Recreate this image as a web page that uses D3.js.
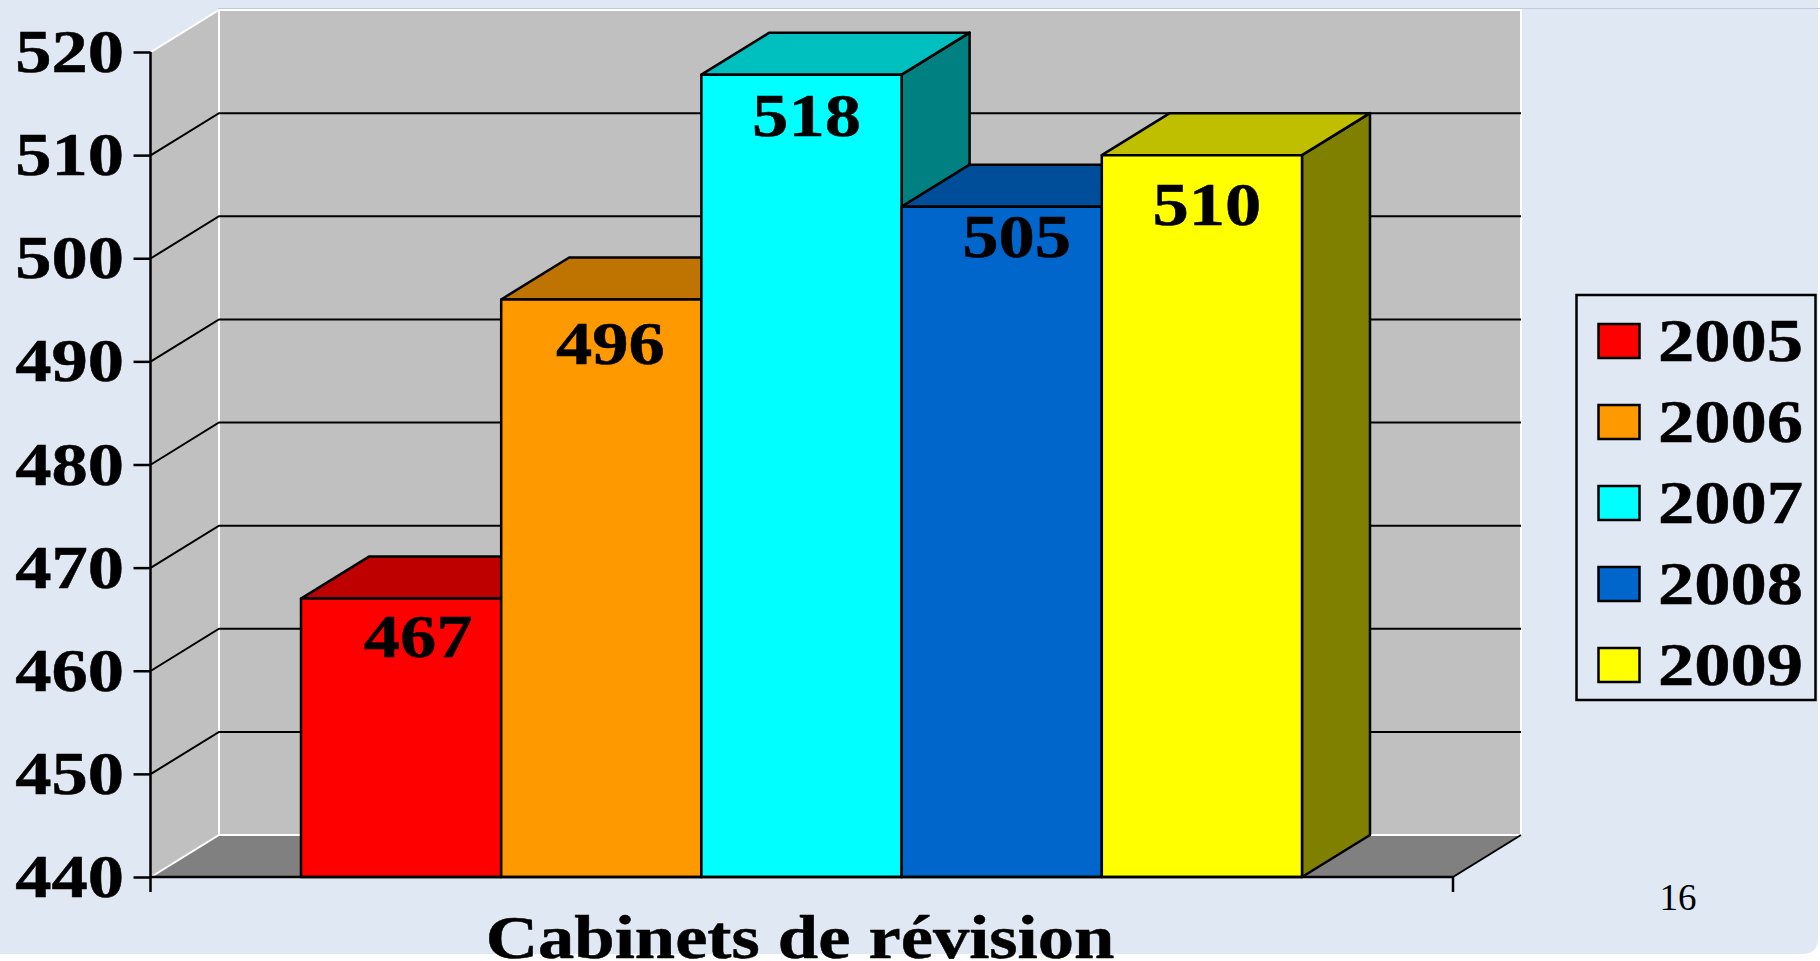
<!DOCTYPE html>
<html>
<head>
<meta charset="utf-8">
<script src="https://cdn.jsdelivr.net/npm/d3@7"></script>
<style>
  html, body { margin: 0; padding: 0; background: #fff; }
  svg { display: block; }
  text { font-family: "Liberation Serif", serif; fill: #000; }
</style>
</head>
<body>
<div id="chart"></div>
<script>
const years = ["2005", "2006", "2007", "2008", "2009"];
const values = [467, 496, 517.8, 505, 510];
const frontColors = ["#ff0000", "#ff9900", "#00ffff", "#0066cc", "#ffff00"];
const topColors = ["#bf0000", "#bf7300", "#00bfbf", "#004d99", "#bfbf00"];
const sideColors = ["#800000", "#804d00", "#008080", "#003366", "#808000"];
const yTicks = [440, 450, 460, 470, 480, 490, 500, 510, 520];
const xLabel = "Cabinets de révision";
const pageNumber = "16";

const width = 1820, height = 961;
const depthX = 68, depthY = -42;
const stretch = 1.17; // the slide was stretched sideways, text included

// the value labels were placed by hand on the slide, so each has its own nudge
const labelNudgeX = [17, 9, 5, 15, 5];
const labelNudgeY = [58, 64, 61, 50, 70];

const svg = d3.select("#chart").append("svg")
  .attr("width", width)
  .attr("height", height);

const y = d3.scaleLinear().domain([440, 520]).range([877, 52]);
const x = d3.scaleBand().domain(years).range([301, 1302]).padding(0);
const axisLeft = 151, axisRight = 1453;

const poly = (pts) => pts.map(p => p.join(",")).join(" ");

// slide background
svg.append("path")
  .attr("d", `M0,0H1818V938Q1818,954 1802,954H0Z`)
  .attr("fill", "#e0e8f4");
svg.append("line")
  .attr("x1", 218).attr("x2", width).attr("y1", 8.5).attr("y2", 8.5)
  .attr("stroke", "#c0cadb").attr("stroke-width", 1);

// walls and floor
const yBase = y(440), yTop = y(520);
svg.append("polygon")
  .attr("points", poly([[axisLeft, yBase], [axisLeft + depthX, yBase + depthY], [axisLeft + depthX, yTop + depthY], [axisLeft, yTop]]))
  .attr("fill", "#c0c0c0");
svg.append("rect")
  .attr("x", axisLeft + depthX).attr("y", yTop + depthY)
  .attr("width", axisRight - axisLeft).attr("height", yBase - yTop)
  .attr("fill", "#c0c0c0");
svg.append("polygon")
  .attr("points", poly([[axisLeft, yBase], [axisRight, yBase], [axisRight + depthX, yBase + depthY], [axisLeft + depthX, yBase + depthY]]))
  .attr("fill", "#808080");

// white wall edges
const wallEdge = d3.path();
wallEdge.moveTo(axisLeft, yTop);
wallEdge.lineTo(axisLeft + depthX, yTop + depthY);
wallEdge.lineTo(axisRight + depthX, yTop + depthY);
wallEdge.lineTo(axisRight + depthX, yBase + depthY);
wallEdge.lineTo(axisLeft + depthX, yBase + depthY);
wallEdge.lineTo(axisLeft, yBase);
wallEdge.moveTo(axisLeft + depthX, yTop + depthY);
wallEdge.lineTo(axisLeft + depthX, yBase + depthY);
svg.append("path")
  .attr("d", wallEdge.toString())
  .attr("fill", "none")
  .attr("stroke", "#fff")
  .attr("stroke-width", 2);

// gridlines, along the side wall then the back wall
const grid = svg.append("g");
grid.selectAll("polyline")
  .data(yTicks.filter(t => t > 440 && t < 520))
  .enter()
  .append("polyline")
  .attr("points", d => poly([[axisLeft, y(d)], [axisLeft + depthX, y(d) + depthY], [axisRight + depthX, y(d) + depthY]]))
  .attr("fill", "none")
  .attr("stroke", "#000")
  .attr("stroke-width", 2);

// floor right edge
svg.append("polyline")
  .attr("points", poly([[axisRight + depthX, yBase + depthY], [axisRight, yBase]]))
  .attr("fill", "none")
  .attr("stroke", "#000")
  .attr("stroke-width", 2);

// side and top faces first, fronts go last so a neighbour does not cover them
const bars = years.map((year, i) => ({ year, value: values[i], i }));
const barG = svg.append("g")
  .attr("stroke", "#000")
  .attr("stroke-width", 2.5)
  .attr("stroke-linejoin", "round");

bars.forEach(d => {
  const x0 = x(d.year), x1 = x0 + x.bandwidth(), yv = y(d.value);
  barG.append("polygon")
    .attr("points", poly([[x1, yv], [x1 + depthX, yv + depthY], [x1 + depthX, yBase + depthY], [x1, yBase]]))
    .attr("fill", sideColors[d.i]);
  barG.append("polygon")
    .attr("points", poly([[x0, yv], [x0 + depthX, yv + depthY], [x1 + depthX, yv + depthY], [x1, yv]]))
    .attr("fill", topColors[d.i]);
});
bars.forEach(d => {
  barG.append("rect")
    .attr("x", x(d.year))
    .attr("y", y(d.value))
    .attr("width", x.bandwidth())
    .attr("height", yBase - y(d.value))
    .attr("fill", frontColors[d.i]);
});

// y axis
const axis = svg.append("g")
  .attr("transform", `translate(${axisLeft - 0.5},0)`)
  .call(d3.axisLeft(y).tickValues(yTicks).tickSize(17).tickPadding(0).tickFormat(() => ""));
axis.selectAll("path, line").attr("stroke", "#000").attr("stroke-width", 2.5);
axis.select(".domain").attr("d", `M0,${yTop}V${yBase + 15}`);

// x axis line with end tick
svg.append("path")
  .attr("d", `M${axisLeft},${yBase}H${axisRight}M${axisRight},${yBase}V${yBase + 15}`)
  .attr("fill", "none")
  .attr("stroke", "#000")
  .attr("stroke-width", 2.5);

// stretched bold text helper
function boldText(g, str, px, py, anchor) {
  return g.append("text")
    .attr("transform", `translate(${px},${py}) scale(${stretch},1)`)
    .attr("text-anchor", anchor)
    .attr("font-weight", "bold")
    .attr("font-size", 62)
    .attr("stroke", "#000")
    .attr("stroke-width", 0.5)
    .text(str);
}

const labels = svg.append("g");
yTicks.forEach(t => {
  boldText(labels, String(t), 124, y(t) + 20, "end");
});
bars.forEach(d => {
  boldText(labels, d3.format(".0f")(d.value), x(d.year) + x.bandwidth() / 2 + labelNudgeX[d.i], y(d.value) + labelNudgeY[d.i], "middle");
});

boldText(labels, xLabel, 800, 958, "middle");

svg.append("text")
  .attr("x", 1678).attr("y", 910)
  .attr("text-anchor", "middle")
  .attr("font-size", 37)
  .text(pageNumber);

// legend
const legend = svg.append("g");
legend.append("rect")
  .attr("x", 1576.5).attr("y", 295)
  .attr("width", 239).attr("height", 405)
  .attr("fill", "#e0e8f4")
  .attr("stroke", "#000")
  .attr("stroke-width", 2.5);
const legendY = d3.scalePoint().domain(years).range([341, 665]);
years.forEach((year, i) => {
  legend.append("rect")
    .attr("x", 1598.5).attr("y", legendY(year) - 17)
    .attr("width", 41).attr("height", 34)
    .attr("fill", frontColors[i])
    .attr("stroke", "#000")
    .attr("stroke-width", 2.5);
  boldText(legend, year, 1658, legendY(year) + 20, "start");
});
</script>
</body>
</html>
